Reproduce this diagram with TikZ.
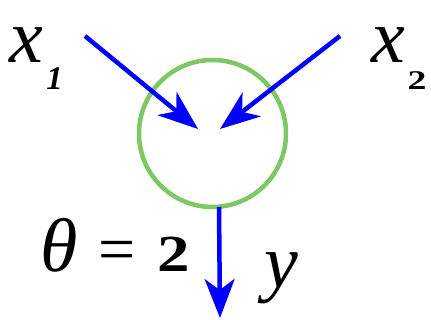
\documentclass[tikz,border=0pt]{standalone}
\usepackage{fontspec}
\setmainfont{Liberation Serif}
\usetikzlibrary{arrows.meta}
\definecolor{cgreen}{RGB}{125,200,100}
\definecolor{cblue}{RGB}{0,0,255}
\tikzset{
  conn/.style={draw=cblue, line width=4.5pt, -{Stealth[length=40pt,width=30pt,inset=12pt]}},
  lbl/.style={inner sep=0pt, text=black, anchor=base},
}
\begin{document}
\begin{tikzpicture}[x=1pt,y=-1pt]
\useasboundingbox (0,0) rectangle (431,320);
\fill[white] (0,0) rectangle (431,320);
\node[circle, draw=cgreen, line width=4.5pt, fill=white, minimum size=147pt, inner sep=0pt] (c) at (212.5,133.5) {};
\coordinate (s1) at (85,36);
\coordinate (t1) at (198,129);
\coordinate (s2) at (340,36);
\coordinate (t2) at (220,129);
\coordinate (s3) at (219,207);
\coordinate (t3) at (220,318);
\draw[conn] (s1) -- (t1);
\draw[conn] (s2) -- (t2);
\draw[conn, -{Stealth[length=39pt,width=30pt,inset=11pt]}] (s3) -- (t3);
\node[lbl, font=\fontsize{76}{76}\selectfont\itshape] (x1) at (26.5,63) {x};
\node[lbl, font=\fontsize{33}{33}\selectfont\bfseries\itshape] (n1) at (54.5,90) {1};
\node[lbl, font=\fontsize{76}{76}\selectfont\itshape] (x2) at (388.5,63) {x};
\node[lbl, font=\fontsize{27}{27}\selectfont\bfseries] (n2) at (417,90) {\scalebox{1.4}[1]{2}};
\node[lbl, font=\fontsize{76}{76}\selectfont\itshape] (th) at (59,272) {θ};
\node[lbl, font=\fontsize{66}{66}\selectfont] (eq) at (117,272) {=};
\node[lbl, font=\fontsize{52}{52}\selectfont\bfseries] (two) at (174,272) {\scalebox{1.25}[1]{2}};
\node[lbl, font=\fontsize{76}{76}\selectfont\itshape] (y) at (281.5,288) {y};
\end{tikzpicture}
\end{document}
